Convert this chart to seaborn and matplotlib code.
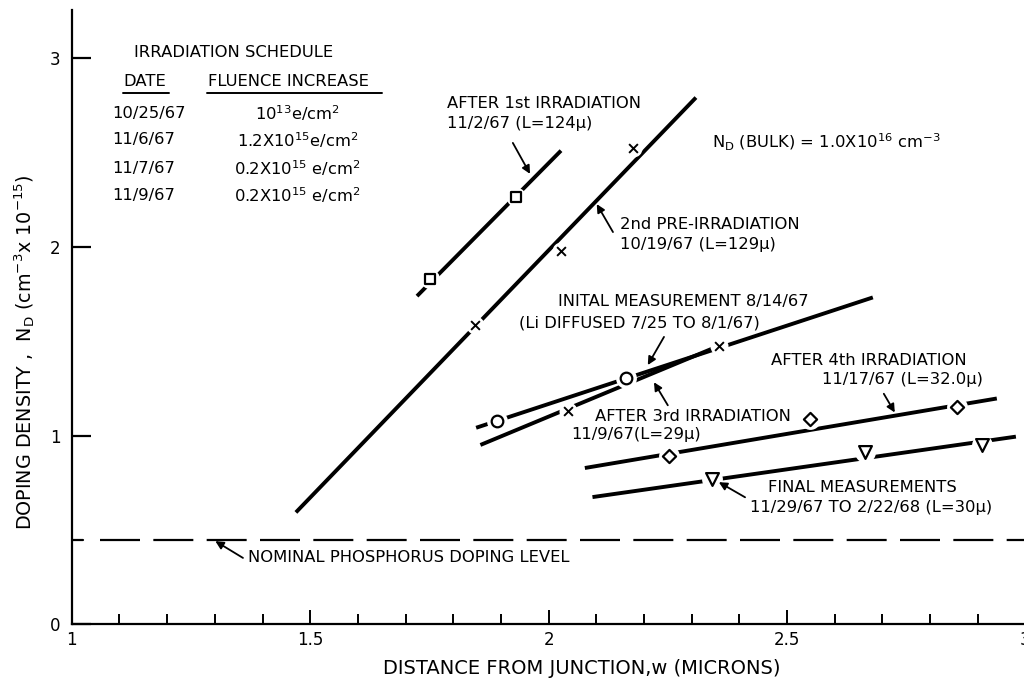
import matplotlib
matplotlib.use("Agg")
import matplotlib.pyplot as plt
from matplotlib.lines import Line2D
import seaborn as sns

# ---------------- data ----------------
schedule_dates = ["10/25/67", "11/6/67", "11/7/67", "11/9/67"]
schedule_fluence = [r"10$^{13}$e/cm$^{2}$", r"1.2X10$^{15}$e/cm$^{2}$",
                    r"0.2X10$^{15}$ e/cm$^{2}$", r"0.2X10$^{15}$ e/cm$^{2}$"]

# 2nd pre-irradiation (x markers)
pre2_x = [1.846, 2.027, 2.177]
pre2_y = [1.586, 1.977, 2.520]
pre2_fit_x = [1.470, 2.309]
pre2_fit_y = [0.593, 2.789]

# after 1st irradiation (squares)
irr1_x = [1.751, 1.931]
irr1_y = [1.830, 2.264]
irr1_fit_x = [1.724, 2.026]
irr1_fit_y = [1.738, 2.508]

# initial measurement (circles)
init_x = [1.891, 2.163]
init_y = [1.078, 1.305]
init_fit_x = [1.848, 2.680]
init_fit_y = [1.041, 1.731]

# after 3rd irradiation (x markers)
irr3_x = [2.040, 2.358]
irr3_y = [1.128, 1.475]
irr3_fit_x = [1.857, 2.345]
irr3_fit_y = [0.950, 1.462]

# after 4th irradiation (diamonds)
irr4_x = [2.253, 2.549, 2.856]
irr4_y = [0.892, 1.086, 1.150]
irr4_fit_x = [2.076, 2.940]
irr4_fit_y = [0.828, 1.196]

# final measurements (down triangles)
final_x = [2.343, 2.663, 2.908]
final_y = [0.770, 0.915, 0.948]
final_fit_x = [2.092, 2.980]
final_fit_y = [0.674, 0.994]

nominal_level = 0.445

x_major = [1, 1.5, 2, 2.5, 3]
x_major_labels = ["1", "1.5", "2", "2.5", "3"]
x_minor = [1.1, 1.2, 1.3, 1.4, 1.6, 1.7, 1.8, 1.9, 2.1, 2.2, 2.3, 2.4,
           2.6, 2.7, 2.8, 2.9]
y_major = [0, 1, 2, 3]
y_major_labels = ["0", "1", "2", "3"]

# ---------------- figure ----------------
sns.set_theme(style="white")
plt.rcParams["font.family"] = ["DejaVu Sans"]
plt.rcParams["mathtext.default"] = "regular"
plt.rcParams["text.color"] = "black"
plt.rcParams["axes.labelcolor"] = "black"
plt.rcParams["xtick.color"] = "black"
plt.rcParams["ytick.color"] = "black"

fig = plt.figure(figsize=(10.24, 6.81), dpi=100)
ax = fig.add_axes([0.0701, 0.0831, 0.9313, 0.9015])
ax.set_xlim(1, 3.0)
ax.set_ylim(0, 3.25)

LW = 2.8
fits = [(pre2_fit_x, pre2_fit_y), (irr1_fit_x, irr1_fit_y),
        (init_fit_x, init_fit_y), (irr3_fit_x, irr3_fit_y),
        (irr4_fit_x, irr4_fit_y), (final_fit_x, final_fit_y)]
for fx, fy in fits:
    sns.lineplot(x=fx, y=fy, ax=ax, color="black", linewidth=LW,
                 sort=False, zorder=2, solid_capstyle="butt")

ax.axhline(nominal_level, xmin=0.03, color="black", linewidth=1.6,
           dashes=(18, 6), zorder=2)
ax.axhline(nominal_level, xmax=0.012, color="black", linewidth=1.6, zorder=2)

# white halos that break the lines around the markers
for mx, my, hs in [(pre2_x, pre2_y, 13), (irr1_x, irr1_y, 14),
                   (init_x, init_y, 15), (irr3_x, irr3_y, 13),
                   (irr4_x, irr4_y, 15), (final_x, final_y, 15)]:
    sns.scatterplot(x=mx, y=my, ax=ax, marker="o", s=hs ** 2, color="white",
                    linewidth=0, zorder=3)

sns.scatterplot(x=pre2_x + irr3_x, y=pre2_y + irr3_y, ax=ax, marker="x",
                s=40, color="black", linewidth=1.4, zorder=4)
sns.scatterplot(x=irr1_x, y=irr1_y, ax=ax, marker="s", s=55,
                facecolor="white", edgecolor="black", linewidth=1.6, zorder=4)
sns.scatterplot(x=init_x, y=init_y, ax=ax, marker="o", s=70,
                facecolor="white", edgecolor="black", linewidth=1.6, zorder=4)
sns.scatterplot(x=irr4_x, y=irr4_y, ax=ax, marker="D", s=45,
                facecolor="white", edgecolor="black", linewidth=1.6, zorder=4)
sns.scatterplot(x=final_x, y=final_y, ax=ax, marker="v", s=85,
                facecolor="white", edgecolor="black", linewidth=1.6, zorder=4)

# ---------------- axes styling ----------------
for s in ["top", "right"]:
    ax.spines[s].set_visible(False)
for s in ["left", "bottom"]:
    ax.spines[s].set_linewidth(1.6)
    ax.spines[s].set_color("black")

ax.set_xticks(x_major)
ax.set_xticklabels(x_major_labels)
ax.set_xticks(x_minor, minor=True)
ax.set_yticks(y_major)
ax.set_yticklabels(y_major_labels)
ax.tick_params(axis="x", which="major", direction="in", length=10, width=1.4,
               labelsize=12, pad=5, bottom=True)
ax.tick_params(axis="x", which="minor", direction="in", length=7, width=1.4,
               bottom=True)
ax.tick_params(axis="y", which="major", direction="in", length=14, width=1.6,
               labelsize=12, pad=8, left=True)
ax.set_xlabel("")
ax.set_ylabel("")

fig.text(0.568, 0.019, "DISTANCE FROM JUNCTION,w (MICRONS)", ha="center",
         va="center", fontsize=14)
fig.text(0.024, 0.483,
         r"DOPING DENSITY ,  N$_{D}$ (cm$^{-3}$x 10$^{-15}$)",
         rotation=90, ha="center", va="center", fontsize=13.8)

FS = 11.8
# schedule table
ax.text(1.130, 3.03, "IRRADIATION SCHEDULE", fontsize=FS, ha="left",
        va="center")
ax.text(1.109, 2.873, "DATE", fontsize=FS, ha="left", va="center")
ax.text(1.286, 2.873, "FLUENCE INCREASE", fontsize=FS, ha="left",
        va="center")
ax.add_line(Line2D([1.107, 1.203], [2.812, 2.812], color="black", lw=1.4))
ax.add_line(Line2D([1.284, 1.650], [2.812, 2.812], color="black", lw=1.4))
for yy, d, f in zip([2.707, 2.565, 2.416, 2.273], schedule_dates,
                    schedule_fluence):
    ax.text(1.084, yy, d, fontsize=FS, ha="left", va="center")
    ax.text(1.473, yy, f, fontsize=FS, ha="center", va="center")

ax.text(2.343, 2.554, r"N$_{D}$ (BULK) = 1.0X10$^{16}$ cm$^{-3}$",
        fontsize=FS, ha="left", va="center")

arrow = dict(arrowstyle="-|>", color="black", lw=1.3, mutation_scale=12,
             shrinkA=0, shrinkB=0)

ax.text(1.787, 2.76, "AFTER 1st IRRADIATION", fontsize=FS, ha="left",
        va="center")
ax.text(1.787, 2.65, "11/2/67 (L=124μ)", fontsize=FS, ha="left", va="center")
ax.annotate("", xy=(1.961, 2.385), xytext=(1.925, 2.549), arrowprops=arrow)

ax.text(2.150, 2.115, "2nd PRE-IRRADIATION", fontsize=FS, ha="left",
        va="center")
ax.text(2.150, 2.009, "10/19/67 (L=129μ)", fontsize=FS, ha="left",
        va="center")
ax.annotate("", xy=(2.101, 2.225), xytext=(2.135, 2.077), arrowprops=arrow)

ax.text(2.020, 1.707, "INITAL MEASUREMENT 8/14/67", fontsize=FS, ha="left",
        va="center")
ax.text(1.938, 1.596, "(Li DIFFUSED 7/25 TO 8/1/67)", fontsize=FS,
        ha="left", va="center")
ax.annotate("", xy=(2.208, 1.373), xytext=(2.242, 1.522), arrowprops=arrow)

ax.text(2.097, 1.101, "AFTER 3rd IRRADIATION", fontsize=FS, ha="left",
        va="center")
ax.text(2.047, 1.003, "11/9/67(L=29μ)", fontsize=FS, ha="left", va="center")
ax.annotate("", xy=(2.221, 1.282), xytext=(2.250, 1.160), arrowprops=arrow)

ax.text(2.467, 1.395, "AFTER 4th IRRADIATION", fontsize=FS, ha="left",
        va="center")
ax.text(2.574, 1.294, "11/17/67 (L=32.0μ)", fontsize=FS, ha="left",
        va="center")
ax.annotate("", xy=(2.726, 1.122), xytext=(2.703, 1.221), arrowprops=arrow)

ax.text(2.460, 0.727, "FINAL MEASUREMENTS", fontsize=FS, ha="left",
        va="center")
ax.text(2.422, 0.621, "11/29/67 TO 2/22/68 (L=30μ)", fontsize=FS,
        ha="left", va="center")
ax.annotate("", xy=(2.357, 0.753), xytext=(2.412, 0.673), arrowprops=arrow)

ax.text(1.370, 0.352, "NOMINAL PHOSPHORUS DOPING LEVEL", fontsize=FS,
        ha="left", va="center")
ax.annotate("", xy=(1.301, 0.441), xytext=(1.359, 0.352), arrowprops=arrow)

fig.savefig("out.png", dpi=100)
